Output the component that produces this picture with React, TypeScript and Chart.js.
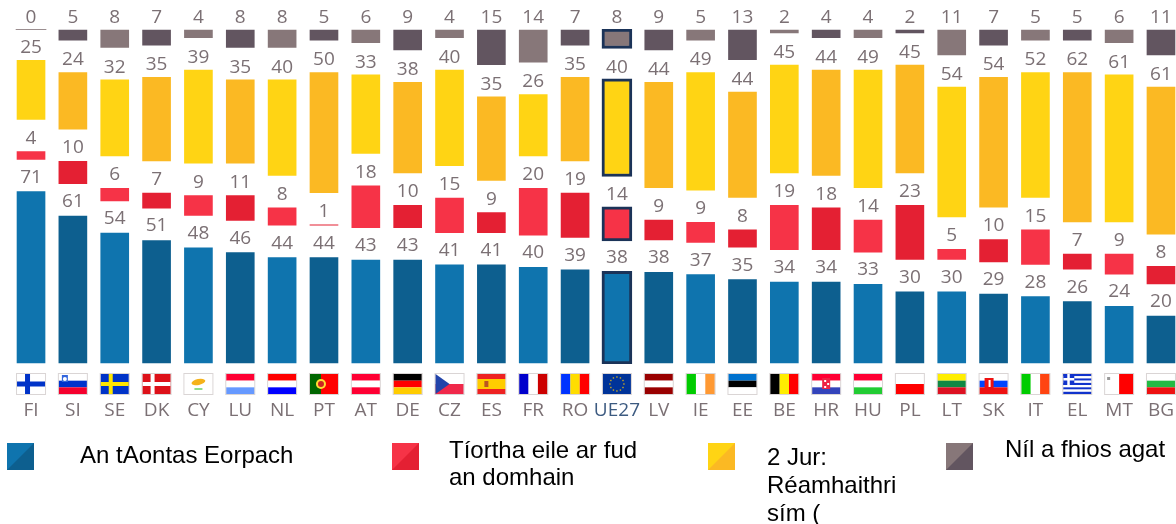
import React, { useEffect, useRef } from "react";
import { Chart, registerables } from "chart.js";

Chart.register(...registerables);

const categories = ["FI","SI","SE","DK","CY","LU","NL","PT","AT","DE","CZ","ES","FR","RO","UE27","LV","IE","EE","BE","HR","HU","PL","LT","SK","IT","EL","MT","BG"];
const euValues = [71,61,54,51,48,46,44,44,43,43,41,41,40,39,38,38,37,35,34,34,33,30,30,29,28,26,24,20];
const worldValues = [4,10,6,7,9,11,8,1,18,10,15,9,20,19,14,9,9,8,19,18,14,23,5,10,15,7,9,8];
const prelimValues = [25,24,32,35,39,35,40,50,33,38,40,35,26,35,40,44,49,44,45,44,49,45,54,54,52,62,61,61];
const dkValues = [0,5,8,7,4,8,8,5,6,9,4,15,14,7,8,9,5,13,2,4,4,2,11,7,5,5,6,11];
const spacerValues = categories.map(() => 12.4);

const legendLines = [["An tAontas Eorpach"], ["Tíortha eile ar fud", "an domhain"], ["2 Jur:", "Réamhaithri", "sím ("], ["Níl a fhios agat"]];
const BLUE = ["#0f74ae", "#0d5f8f"];
const RED = ["#f63347", "#e42033"];
const YELLOW = ["#ffd414", "#fbb923"];
const GREY = ["#877779", "#625560"];
const NAVY = "#1b3358";
const LABEL = "#7b7074";
const FONT = '"Open Sans", sans-serif';

const stripesH: Record<string, string[]> = {
  SI: ["#ffffff", "#0033cc", "#f5002d"], LU: ["#ff0033", "#ffffff", "#6699ff"], NL: ["#ff0000", "#ffffff", "#0000ff"],
  AT: ["#ff0033", "#ffffff", "#ff0033"], DE: ["#000000", "#ff0000", "#ffcc00"], LV: ["#990000", "#ffffff", "#990000"],
  EE: ["#0072ce", "#000000", "#ffffff"], HR: ["#ff0033", "#ffffff", "#3344bb"], HU: ["#ff0033", "#ffffff", "#22cc33"],
  PL: ["#ffffff", "#ff0000"], LT: ["#ffee00", "#118844", "#dd1122"], SK: ["#ffffff", "#0044ff", "#ee1111"],
  BG: ["#ffffff", "#22bb44", "#ee1111"], CZ: ["#ffffff", "#f0284a"],
};
const stripesV: Record<string, string[]> = {
  FR: ["#0000cc", "#ffffff", "#cc0000"], RO: ["#0033ff", "#ffdd00", "#ff0000"], IE: ["#00cc00", "#ffffff", "#ff9933"],
  BE: ["#000000", "#ffee00", "#ff0000"], IT: ["#00cc00", "#ffffff", "#ff4411"], PT: ["#006600", "#ff0000", "#ff0000"],
  MT: ["#ffffff", "#ff0000"],
};

function drawFlag(c: CanvasRenderingContext2D, code: string, cx: number, y: number) {
  const w = 28, h = 20, x = cx - w / 2;
  c.save();
  c.fillStyle = "#ffffff";
  c.fillRect(x, y, w, h);
  const rect = (col: string, a: number, b: number, ww: number, hh: number) => { c.fillStyle = col; c.fillRect(x + a, y + b, ww, hh); };
  if (stripesH[code]) stripesH[code].forEach((col, i, arr) => rect(col, 0, (i * h) / arr.length, w, h / arr.length));
  if (stripesV[code]) {
    const arr = stripesV[code];
    const widths = code === "PT" ? [11, 17, 0] : null;
    let off = 0;
    arr.forEach((col, i) => { const ww = widths ? widths[i] : w / arr.length; rect(col, off, 0, ww, h); off += ww; });
  }
  const circle = (col: string, a: number, b: number, r: number) => { c.fillStyle = col; c.beginPath(); c.arc(x + a, y + b, r, 0, Math.PI * 2); c.fill(); };
  if (code === "FI") { rect("#0033c8", 8, 0, 5, h); rect("#0033c8", 0, 7.5, w, 5); }
  if (code === "SE") { rect("#0033c8", 0, 0, w, h); rect("#ffe600", 8, 0, 4, h); rect("#ffe600", 0, 8, w, 4); }
  if (code === "DK") { rect("#dd1119", 0, 0, w, h); rect("#ffffff", 8, 0, 4, h); rect("#ffffff", 0, 8, w, 4); }
  if (code === "CY") { c.fillStyle = "#f5b21a"; c.beginPath(); c.ellipse(x + 14, y + 8, 7, 3, -0.2, 0, Math.PI * 2); c.fill(); rect("#8fdc8a", 10, 14, 8, 2); }
  if (code === "PT") { circle("#ffdd33", 11, 10, 5); circle("#cc2222", 11, 10, 3); }
  if (code === "ES") { rect("#ee2222", 0, 0, w, 5); rect("#ffcc00", 0, 5, w, 10); rect("#ee2222", 0, 15, w, 5); rect("#bb5522", 7, 7, 4, 6); }
  if (code === "CZ") { c.fillStyle = "#2244aa"; c.beginPath(); c.moveTo(x, y); c.lineTo(x + 14, y + 10); c.lineTo(x, y + 20); c.closePath(); c.fill(); }
  if (code === "SI") { rect("#3366dd", 3, 1, 6, 7); circle("#ffffff", 6, 5, 2); }
  if (code === "HR") { rect("#ee2244", 10, 4, 8, 11); rect("#ffffff", 12, 6, 2, 2); rect("#ffffff", 15, 9, 2, 2); rect("#ffffff", 12, 12, 2, 2); }
  if (code === "SK") { rect("#ee1111", 5, 4, 9, 11); rect("#ffffff", 9, 6, 2, 7); }
  if (code === "EL") {
    for (let i = 0; i < 9; i++) rect(i % 2 ? "#ffffff" : "#1133cc", 0, (i * h) / 9, w, h / 9);
    rect("#1133cc", 0, 0, 11, 11); rect("#ffffff", 4, 0, 2.5, 11); rect("#ffffff", 0, 4, 11, 2.5);
  }
  if (code === "MT") { rect("#999999", 2, 3, 3, 3); }
  if (code === "UE27") {
    rect("#003399", 0, 0, w, h);
    for (let i = 0; i < 12; i++) { const t = (i * Math.PI) / 6; rect("#ccaa22", 14 + 7 * Math.cos(t) - 0.7, 10 + 7 * Math.sin(t) - 0.7, 1.4, 1.4); }
  }
  c.strokeStyle = "rgba(150,135,135,0.35)";
  c.lineWidth = 1;
  c.strokeRect(x - 0.5, y - 0.5, w + 1, h + 1);
  c.restore();
}

const overlayPlugin = {
  id: "overlay",
  afterDatasetsDraw(chart: any) {
    const c: CanvasRenderingContext2D = chart.ctx;
    const xs = chart.scales.x;
    c.save();
    c.font = `19px ${FONT}`;
    c.fillStyle = LABEL;
    c.textAlign = "center";
    c.textBaseline = "alphabetic";
    chart.data.datasets.forEach((ds: any, di: number) => {
      if (ds.spacer) return;
      chart.getDatasetMeta(di).data.forEach((bar: any, i: number) => {
        c.fillText(String(ds.data[i]), bar.x, bar.y - ds.labelGap);
      });
    });
    categories.forEach((code, i) => drawFlag(c, code, xs.getPixelForValue(i), 374));

    const swatches = [BLUE, RED, YELLOW, GREY];
    const swX = [7, 392, 708, 946];
    const txtX = [80, 449, 767, 1005];
    const txtY = [463, 458, 465, 457];
    const lh = [0, 27, 28, 0];
    swatches.forEach((col, k) => {
      const x = swX[k], y = 443, s = 27;
      c.fillStyle = col[0];
      c.fillRect(x, y, s, s);
      c.fillStyle = col[1];
      c.beginPath(); c.moveTo(x + s, y); c.lineTo(x + s, y + s); c.lineTo(x, y + s); c.closePath(); c.fill();
      c.fillStyle = "#000000";
      c.textAlign = "left";
      c.font = '24px "Liberation Sans", Arial, sans-serif';
      legendLines[k].forEach((line, j) => c.fillText(line, txtX[k], txtY[k] + j * lh[k]));
    });
    c.restore();
  },
};

const dataset = (label: string, data: number[], colours: string[], extra: any = {}) => ({
  label,
  data,
  backgroundColor: (ctx: any) => colours[ctx.dataIndex % 2],
  borderColor: (ctx: any) => (categories[ctx.dataIndex] === "UE27" ? NAVY : "rgba(255,255,255,0.3)"),
  borderWidth: (ctx: any) => (categories[ctx.dataIndex] === "UE27" ? 3 : data[ctx.dataIndex] === 0 ? 0 : 1),
  borderSkipped: false,
  barThickness: 30,
  stack: "s",
  ...extra,
});
const spacer = (label: string) => ({
  label, data: spacerValues, backgroundColor: "rgba(0,0,0,0)", borderWidth: 0, barThickness: 30, stack: "s", spacer: true,
});

export default function App() {
  const ref = useRef<HTMLCanvasElement | null>(null);
  useEffect(() => {
    document.body.style.margin = "0";
    const chart = new Chart(ref.current as HTMLCanvasElement, {
      type: "bar",
      data: {
        labels: categories,
        datasets: [
          dataset("An tAontas Eorpach", euValues, BLUE, { labelGap: 8 }),
          spacer("gap1"),
          dataset("Tíortha eile ar fud an domhain", worldValues, RED, { labelGap: 7 }),
          spacer("gap2"),
          dataset("2 Jur: Réamhaithrisím (", prelimValues, YELLOW, { labelGap: 6 }),
          spacer("gap3"),
          dataset("Níl a fhios agat", dkValues, GREY, { minBarLength: 1, labelGap: 6 }),
        ] as any,
      },
      options: {
        animation: false,
        responsive: false,
        layout: { padding: { left: 10.1, right: 8.1, top: 29, bottom: 60 } },
        plugins: { legend: { display: false }, tooltip: { enabled: false } },
        scales: {
          x: {
            stacked: true,
            border: { display: false },
            grid: { display: true, drawOnChartArea: false, drawTicks: true, tickLength: 35, tickColor: "rgba(0,0,0,0)" },
            afterFit: (s: any) => { s.height = 100; s.paddingLeft = 0; s.paddingRight = 0; },
            ticks: {
              autoSkip: false,
              maxRotation: 0,
              padding: 0,
              font: { family: "Open Sans", size: 19 },
              color: (ctx: any) => (categories[ctx.index] === "UE27" ? "#3c5a80" : LABEL),
            },
          },
          y: { stacked: true, display: false, min: 0, max: 137.2 },
        },
      },
      plugins: [overlayPlugin],
    } as any);
    return () => chart.destroy();
  }, []);
  return (
    <div style={{ width: 1176, height: 524, overflow: "hidden", position: "relative" }}>
      <canvas ref={ref} width={1190} height={524} style={{ display: "block" }} />
    </div>
  );
}
